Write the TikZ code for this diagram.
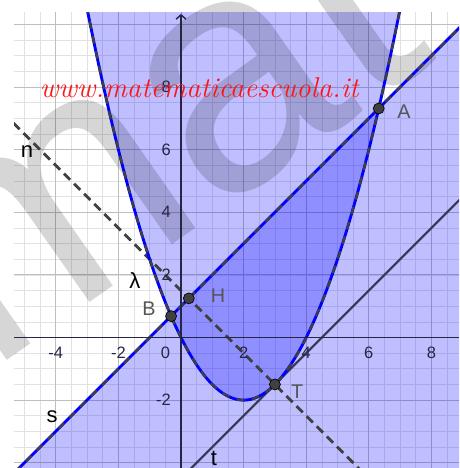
\documentclass[tikz,border=0pt]{standalone}
\usepackage{fontspec}
\setsansfont{Liberation Sans}
\usepackage{tikz}
\usetikzlibrary{arrows.meta}
\definecolor{ggBlue}{RGB}{0,0,255}
\definecolor{ggDash}{RGB}{64,64,64}
\definecolor{ggAxis}{RGB}{37,37,72}
\definecolor{ggLine}{RGB}{55,55,85}
\definecolor{ggGridMinor}{RGB}{226,226,226}
\definecolor{ggGridMajor}{RGB}{190,190,190}
\definecolor{ggLabel}{RGB}{85,85,85}
\definecolor{ggRed}{RGB}{255,20,20}
\begin{document}
\begin{tikzpicture}[x=1cm,y=1cm,
  bordoblu/.style={ggBlue, line width=2.6pt},
  bordotratti/.style={ggDash, line width=2.1pt, dash pattern=on 7pt off 7pt},
  regione/.style={fill=ggBlue, fill opacity=0.25},
  punto/.style={circle, fill=ggDash, draw=black, line width=0.6pt, inner sep=0pt, minimum size=10pt},
  etipunto/.style={text=ggLabel, font=\sffamily\fontsize{18}{20}\selectfont},
  etiretta/.style={text=black, font=\sffamily\fontsize{20}{22}\selectfont},
  tacca/.style={text=ggAxis, font=\sffamily\fontsize{15}{17}\selectfont}]
\useasboundingbox (-5.783,-4.169) rectangle (8.882,10.783);
\coordinate (A) at ({3+sqrt(11)},{4+sqrt(11)});
\coordinate (B) at ({3-sqrt(11)},{4-sqrt(11)});
\coordinate (H) at (0.25,1.25);
\coordinate (T) at (3,-1.5);
\begin{scope}
\clip (-5.335,-4.169) rectangle (8.882,10.37);
\draw[ggGridMinor, line width=0.6pt, step=0.5] (-5.5,-4.5) grid (9,10.5);
\draw[ggGridMajor, line width=0.9pt, step=2] (-5.5,-4.5) grid (9,10.5);
\fill[regione, domain=-3.3:7.3, samples=160] plot (\x,{0.5*\x*\x-2*\x}) -- cycle;
\fill[regione] (-6,-5) -- (10,11) -- (10,-5) -- cycle;
\end{scope}
\node[rotate=35, text=black, text opacity=0.16, font=\sffamily\fontsize{300}{300}\selectfont] (marchio) at (-0.87,6.63) {mat};
\begin{scope}
\clip (-5.335,-4.169) rectangle (8.882,10.37);
\draw[ggLine, line width=1.8pt] (-1,-5.5) -- (10,5.5);
\draw[ggDash, line width=2.6pt, dash pattern=on 8pt off 5pt] (-6,7.5) -- (7,-5.5);
\draw[bordoblu, domain=-3.3:7.3, samples=160] plot (\x,{0.5*\x*\x-2*\x});
\draw[bordotratti, domain=-3.3:7.3, samples=160] plot (\x,{0.5*\x*\x-2*\x});
\draw[bordoblu] (-6,-5) -- (10,11);
\draw[bordotratti] (-6,-5) -- (10,11);
\end{scope}
\draw[ggAxis, line width=1.3pt] (-5.335,0) -- (8.882,0);
\draw[ggAxis, line width=1.3pt, -{Straight Barb[length=4pt,width=9pt]}] (0,-4.169) -- (0,10.34);
\foreach \k in {-4,-2,2,4,6,8} \node[tacca] at (\k,-0.5) {\k};
\node[tacca] at (-0.5,-0.48) {0};
\foreach \k in {-2,2,4,6,8} \node[tacca, anchor=east] at (-0.2,\k) {\k};
\node[punto] (pA) at (A) {};
\node[punto] (pB) at (B) {};
\node[punto] (pH) at (H) {};
\node[punto] (pT) at (T) {};
\node[etipunto] at (7.12,7.21) {A};
\node[etipunto] at (-1.02,0.91) {B};
\node[etipunto] at (1.18,1.33) {H};
\node[etipunto] at (3.71,-1.74) {T};
\node[etiretta] at (-4.92,5.93) {n};
\node[etiretta] at (-4.12,-2.54) {s};
\node[etiretta] at (1.05,-3.85) {t};
\node[etiretta] at (-1.47,1.81) {λ};
\node[anchor=base west, inner sep=0pt, text=ggRed, font=\itshape\fontsize{26}{30}\selectfont] (sito) at (-4.52,7.68) {www.matematicaescuola.it};
\end{tikzpicture}
\end{document}
